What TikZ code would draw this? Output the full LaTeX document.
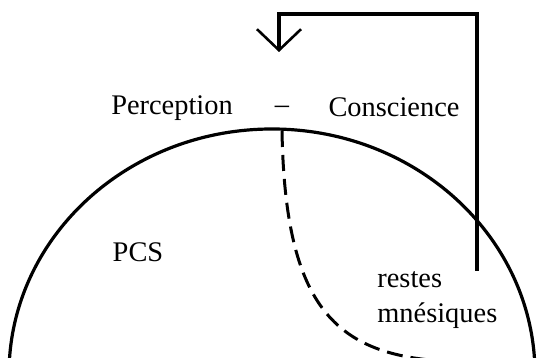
\documentclass[tikz,border=0pt]{standalone}
\usepackage{fontspec}
\setmainfont{Liberation Serif}
\usetikzlibrary{arrows.meta,positioning}
\tikzset{>=Stealth}

\begin{document}
\begin{tikzpicture}[
    x=0.5pt, y=0.5pt,
    lbl/.style={font=\fontsize{14.2}{17.5}\selectfont, inner sep=0pt, anchor=base},
    ligne/.style={line width=1.6pt},
    retour/.style={line width=1.6pt, -{Straight Barb[length=10.5pt, width=22pt, line width=1.3pt]}},
    pointille/.style={line width=1.5pt, dash pattern=on 8pt off 4pt}
  ]
    \useasboundingbox (0,0) rectangle (537,358);
    \clip (0,0) rectangle (537,358);

    \node[lbl] (perc)  at (172,243) {Perception};
    \node[lbl] (tiret) at (282,244) {--};
    \node[lbl] (consc) at (394,241) {Conscience};
    \node[lbl] (pcs)   at (138,96)  {PCS};
    \node[lbl, anchor=base west, align=left] (restes) at (377,35) {restes\\mnésiques};

    \coordinate (bas)   at (477,87);
    \coordinate (coinD) at (477,344);
    \coordinate (coinG) at (279,344);
    \coordinate (pointe) at (279,306);
    \coordinate (sommet) at (282,227);
    \coordinate (fin)   at (430,-2);

    % le systeme PCS
    \draw[ligne] (535,-16) arc[start angle=0, end angle=180, x radius=263, y radius=245];
    \draw[pointille] (sommet) .. controls (285,60) and (330,8) .. (fin);

    \draw[retour] (bas) -- (coinD) -- (coinG) -- (pointe);
  \end{tikzpicture}
\end{document}
